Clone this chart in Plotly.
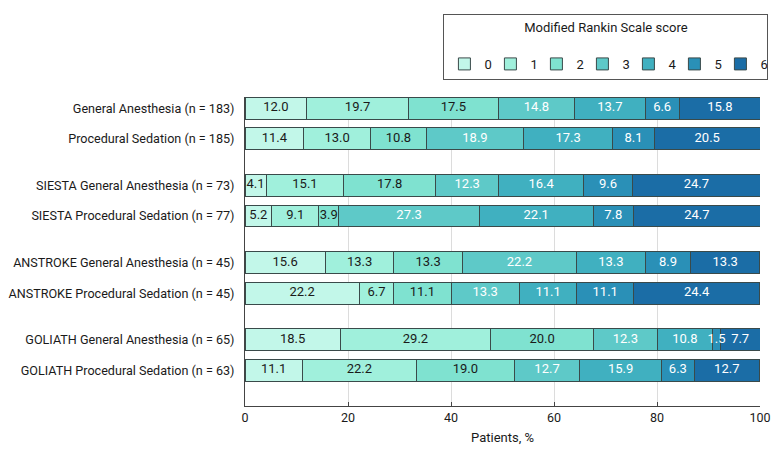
import plotly.graph_objects as go

categories = [
    "General Anesthesia (n = 183)",
    "Procedural Sedation (n = 185)",
    "SIESTA General Anesthesia (n = 73)",
    "SIESTA Procedural Sedation (n = 77)",
    "ANSTROKE General Anesthesia (n = 45)",
    "ANSTROKE Procedural Sedation (n = 45)",
    "GOLIATH General Anesthesia (n = 65)",
    "GOLIATH Procedural Sedation (n = 63)",
]
# row positions (groups separated by a gap)
row_pos = [0, 1, 2.5, 3.5, 5, 6, 7.5, 8.5]

score_labels = ["0", "1", "2", "3", "4", "5", "6"]

general_anesthesia = [12.0, 19.7, 17.5, 14.8, 13.7, 6.6, 15.8]
procedural_sedation = [11.4, 13.0, 10.8, 18.9, 17.3, 8.1, 20.5]
siesta_ga = [4.1, 15.1, 17.8, 12.3, 16.4, 9.6, 24.7]
siesta_ps = [5.2, 9.1, 3.9, 27.3, 22.1, 7.8, 24.7]
anstroke_ga = [15.6, 13.3, 13.3, 22.2, 13.3, 8.9, 13.3]
anstroke_ps = [22.2, 6.7, 11.1, 13.3, 11.1, 11.1, 24.4]
goliath_ga = [18.5, 29.2, 20.0, 12.3, 10.8, 1.5, 7.7]
goliath_ps = [11.1, 22.2, 19.0, 12.7, 15.9, 6.3, 12.7]

rows = [general_anesthesia, procedural_sedation, siesta_ga, siesta_ps,
        anstroke_ga, anstroke_ps, goliath_ga, goliath_ps]

colors = ["#c2f7e9", "#a0f0dc", "#7fe2d0", "#5ec9c8", "#40b0c0", "#2a90b7", "#1b6da6"]
text_colors = ["#1a1a1a", "#1a1a1a", "#1a1a1a", "white", "white", "white", "white"]

FONT = "Roboto, sans-serif"

fig = go.Figure()
for k, lab in enumerate(score_labels):
    vals = [r[k] for r in rows]
    fig.add_trace(go.Bar(
        x=vals, y=row_pos, orientation="h", name=lab,
        marker=dict(color=colors[k], line=dict(color="#3a4a4a", width=1)),
        width=0.71,
        hoverinfo="x+y",
    ))

# value labels on top of all bars, centred in each segment
for k in range(len(score_labels)):
    mids = []
    for r in rows:
        start = sum(r[:k])
        mids.append(start + r[k] / 2)
    fig.add_trace(go.Scatter(
        x=mids, y=row_pos, mode="text",
        text=[f"{r[k]:.1f}" for r in rows],
        textposition="middle center",
        textfont=dict(color=text_colors[k], size=13, family=FONT),
        showlegend=False, hoverinfo="skip",
    ))

pad = "\u00a0" * 24
fig.update_layout(
    barmode="stack",
    width=772, height=440,
    margin=dict(l=237, r=20, t=89, b=42),
    paper_bgcolor="white", plot_bgcolor="white",
    font=dict(family=FONT, size=13, color="#1a1a1a"),
    legend=dict(
        orientation="h", xref="container", yref="container",
        x=0.985, y=0.986, xanchor="right", yanchor="top",
        title=dict(text=pad + "Modified Rankin Scale score" + pad + "<br> ",
                   side="top center", font=dict(size=13)),
        bordercolor="#555555", borderwidth=1,
        entrywidth=1, entrywidthmode="pixels",
        traceorder="normal", font=dict(size=13),
    ),
    xaxis=dict(
        range=[0, 100], tickvals=[0, 20, 40, 60, 80, 100],
        tickfont=dict(size=12.5),
        showgrid=True, gridcolor="#dcdcdc", gridwidth=1,
        showline=True, linecolor="#444444", linewidth=1,
        ticks="inside", ticklen=4, tickcolor="#444444",
        title=dict(text="Patients, %", standoff=8, font=dict(size=13)),
        zeroline=False, fixedrange=True, automargin=False,
    ),
    yaxis=dict(
        range=[9.66, -0.36], tickvals=row_pos, ticktext=categories,
        tickfont=dict(size=12.6),
        showline=True, linecolor="#444444", linewidth=1,
        showgrid=False, zeroline=False, ticks="", ticklabelstandoff=7,
        automargin=False,
    ),
)

fig.write_html("out.html")
